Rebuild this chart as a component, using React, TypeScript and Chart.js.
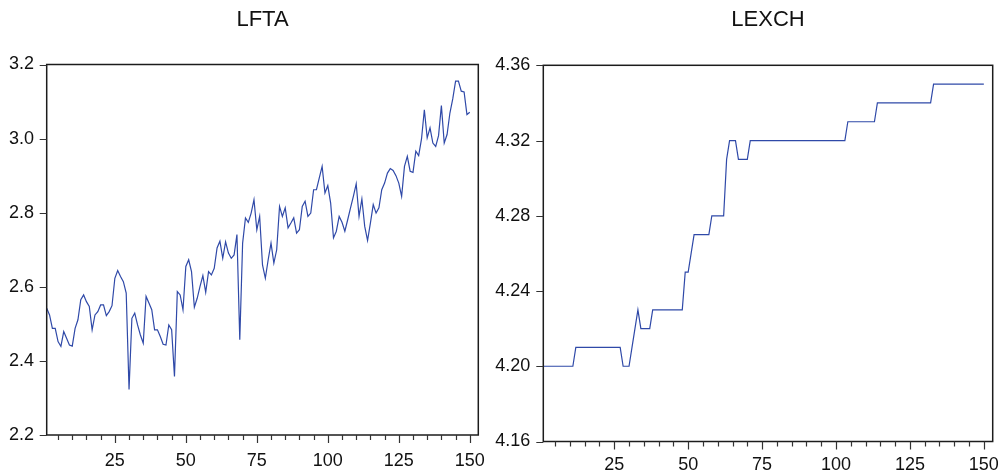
import React, { useEffect, useRef } from "react";
import { Chart, registerables } from "chart.js";

Chart.register(...registerables);

// ---- Data ----
const lftaValues: number[] = [
  2.542, 2.524, 2.488, 2.488, 2.452, 2.439, 2.479, 2.461, 2.443, 2.440,
  2.488, 2.511, 2.565, 2.578, 2.560, 2.547, 2.484, 2.524, 2.533, 2.551,
  2.551, 2.522, 2.533, 2.549, 2.623, 2.644, 2.628, 2.614, 2.583, 2.323,
  2.515, 2.529, 2.497, 2.470, 2.448, 2.574, 2.556, 2.538, 2.484, 2.484,
  2.466, 2.445, 2.443, 2.497, 2.484, 2.358, 2.587, 2.578, 2.538, 2.655,
  2.673, 2.641, 2.545, 2.569, 2.601, 2.630, 2.585, 2.641, 2.632, 2.650,
  2.705, 2.723, 2.677, 2.721, 2.691, 2.677, 2.686, 2.741, 2.457, 2.718,
  2.786, 2.774, 2.799, 2.835, 2.754, 2.790, 2.659, 2.623, 2.673, 2.718,
  2.664, 2.700, 2.817, 2.790, 2.813, 2.759, 2.772, 2.786, 2.745, 2.754,
  2.817, 2.831, 2.790, 2.799, 2.862, 2.862, 2.894, 2.925, 2.853, 2.873,
  2.826, 2.732, 2.750, 2.790, 2.774, 2.750, 2.781, 2.813, 2.844, 2.878,
  2.790, 2.837, 2.763, 2.725, 2.772, 2.822, 2.799, 2.813, 2.862, 2.880,
  2.907, 2.919, 2.914, 2.900, 2.880, 2.844, 2.925, 2.952, 2.912, 2.909,
  2.966, 2.954, 2.999, 3.078, 3.002, 3.029, 2.988, 2.979, 3.008, 3.089,
  2.988, 3.011, 3.069, 3.107, 3.155, 3.155, 3.128, 3.126, 3.065, 3.071,
];

const lexchValues: number[] = [
  4.20, 4.20, 4.20, 4.20, 4.20, 4.20, 4.20, 4.20, 4.20, 4.20,
  4.20, 4.21, 4.21, 4.21, 4.21, 4.21, 4.21, 4.21, 4.21, 4.21,
  4.21, 4.21, 4.21, 4.21, 4.21, 4.21, 4.21, 4.20, 4.20, 4.20,
  4.21, 4.22, 4.23, 4.22, 4.22, 4.22, 4.22, 4.23, 4.23, 4.23,
  4.23, 4.23, 4.23, 4.23, 4.23, 4.23, 4.23, 4.23, 4.25, 4.25,
  4.26, 4.27, 4.27, 4.27, 4.27, 4.27, 4.27, 4.28, 4.28, 4.28,
  4.28, 4.28, 4.31, 4.32, 4.32, 4.32, 4.31, 4.31, 4.31, 4.31,
  4.32, 4.32, 4.32, 4.32, 4.32, 4.32, 4.32, 4.32, 4.32, 4.32,
  4.32, 4.32, 4.32, 4.32, 4.32, 4.32, 4.32, 4.32, 4.32, 4.32,
  4.32, 4.32, 4.32, 4.32, 4.32, 4.32, 4.32, 4.32, 4.32, 4.32,
  4.32, 4.32, 4.32, 4.33, 4.33, 4.33, 4.33, 4.33, 4.33, 4.33,
  4.33, 4.33, 4.33, 4.34, 4.34, 4.34, 4.34, 4.34, 4.34, 4.34,
  4.34, 4.34, 4.34, 4.34, 4.34, 4.34, 4.34, 4.34, 4.34, 4.34,
  4.34, 4.34, 4.35, 4.35, 4.35, 4.35, 4.35, 4.35, 4.35, 4.35,
  4.35, 4.35, 4.35, 4.35, 4.35, 4.35, 4.35, 4.35, 4.35, 4.35,
];

const xLabelTicks: number[] = [25, 50, 75, 100, 125, 150];
const lftaYTicks: number[] = [2.2, 2.4, 2.6, 2.8, 3.0, 3.2];
const lexchYTicks: number[] = [4.16, 4.2, 4.24, 4.28, 4.32, 4.36];

const X_MIN = 1;
const X_MAX = 153;
const MINOR_STEP = 5;

const LINE_COLOR = "#2f49a8";
const TICK_FONT = "'Liberation Sans Narrow', 'Liberation Sans', Arial, sans-serif";
const TITLE_FONT = "'Liberation Sans', Arial, sans-serif";

type PanelProps = {
  title: string;
  values: number[];
  yTicks: number[];
  decimals: number;
  canvasLeft: number;
  canvasWidth: number;
  yWidth: number;
  padRight: number;
  xHeight: number;
  titleBottom: number;
  tickPadX: number;
  tickPadY: number;
};

const framePlugin = {
  id: "eviewsFrame",
  afterDraw(chart: any) {
    const { ctx, chartArea: a, scales } = chart;
    ctx.save();
    ctx.strokeStyle = "#1c1c1c";
    ctx.lineWidth = 1.5;
    ctx.strokeRect(a.left, a.top, a.right - a.left, a.bottom - a.top);
    ctx.lineWidth = 1.2;
    ctx.strokeStyle = "#333";
    ctx.beginPath();
    for (let v = MINOR_STEP; v <= X_MAX; v += MINOR_STEP) {
      const px = Math.round(scales.x.getPixelForValue(v)) + 0.5;
      const len = v % 25 === 0 ? 8 : 5;
      ctx.moveTo(px, a.bottom);
      ctx.lineTo(px, a.bottom + len);
    }
    for (const t of scales.y.ticks) {
      const py = Math.round(scales.y.getPixelForValue(t.value)) + 0.5;
      ctx.moveTo(a.left - 7, py);
      ctx.lineTo(a.left, py);
    }
    ctx.stroke();
    ctx.restore();
  },
};

function Panel(p: PanelProps) {
  const ref = useRef<HTMLCanvasElement | null>(null);
  useEffect(() => {
    if (!ref.current) return;
    const points = p.values.map((y, i) => ({ x: i + 1, y }));
    const chart = new Chart(ref.current, {
      type: "line",
      data: {
        datasets: [
          {
            data: points,
            borderColor: LINE_COLOR,
            borderWidth: 1.2,
            pointRadius: 0,
            tension: 0,
            fill: false,
          },
        ],
      },
      options: {
        animation: false,
        responsive: false,
        maintainAspectRatio: false,
        layout: { padding: { left: 0, right: p.padRight, top: 0, bottom: 0 } },
        plugins: {
          legend: { display: false },
          tooltip: { enabled: false },
          title: {
            display: true,
            text: p.title,
            fullSize: false,
            color: "#111",
            font: { family: TITLE_FONT, size: 22, weight: "normal" },
            padding: { top: 6.8, bottom: p.titleBottom },
          },
        },
        scales: {
          x: {
            type: "linear",
            min: X_MIN,
            max: X_MAX,
            grid: { display: false, drawTicks: false },
            border: { display: false },
            afterBuildTicks: (axis: any) => {
              axis.ticks = xLabelTicks.map((v) => ({ value: v }));
            },
            afterFit: (scale: any) => {
              scale.height = p.xHeight;
              scale.paddingLeft = 0;
              scale.paddingRight = 0;
            },
            ticks: {
              autoSkip: false,
              maxRotation: 0,
              padding: p.tickPadX,
              color: "#111",
              font: { family: TICK_FONT, size: 18 },
              callback: (v: any) => String(v),
            },
          },
          y: {
            type: "linear",
            min: p.yTicks[0],
            max: p.yTicks[p.yTicks.length - 1],
            grid: { display: false, drawTicks: false },
            border: { display: false },
            afterBuildTicks: (axis: any) => {
              axis.ticks = p.yTicks.map((v) => ({ value: v }));
            },
            afterFit: (scale: any) => {
              scale.width = p.yWidth;
              scale.paddingTop = 0;
              scale.paddingBottom = 0;
            },
            ticks: {
              autoSkip: false,
              padding: p.tickPadY,
              color: "#111",
              font: { family: TICK_FONT, size: 18 },
              callback: (v: any) => Number(v).toFixed(p.decimals),
            },
          },
        },
      },
      plugins: [framePlugin],
    });
    return () => chart.destroy();
  }, []);
  return (
    <canvas
      ref={ref}
      width={p.canvasWidth}
      height={473}
      style={{
        position: "absolute",
        left: p.canvasLeft,
        top: 0,
        width: p.canvasWidth,
        height: 473,
      }}
    />
  );
}

export default function App() {
  return (
    <div
      style={{
        position: "fixed",
        left: 0,
        top: 0,
        width: 998,
        height: 473,
        background: "#fff",
        overflow: "hidden",
      }}
    >
      <Panel
        title="LFTA"
        values={lftaValues}
        yTicks={lftaYTicks}
        decimals={1}
        canvasLeft={0}
        canvasWidth={485}
        yWidth={46.7}
        padRight={485 - 478.3}
        xHeight={38}
        titleBottom={31.3}
        tickPadX={15}
        tickPadY={12.7}
      />
      <Panel
        title="LEXCH"
        values={lexchValues}
        yTicks={lexchYTicks}
        decimals={2}
        canvasLeft={485}
        canvasWidth={513}
        yWidth={543.3 - 485}
        padRight={998 - 992.7}
        xHeight={31.5}
        titleBottom={32.1}
        tickPadX={12.5}
        tickPadY={13}
      />
    </div>
  );
}
